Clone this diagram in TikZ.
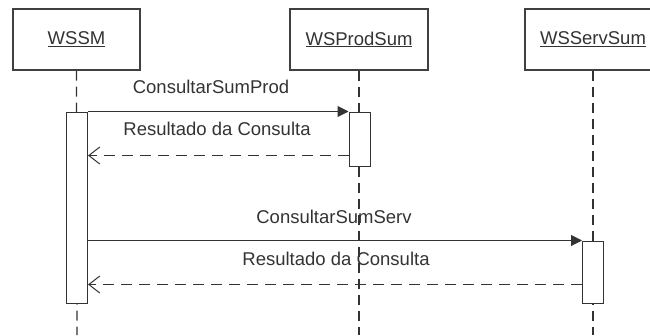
\documentclass[tikz,border=0pt]{standalone}
\usepackage{fontspec}
\setmainfont{Liberation Sans}
\usetikzlibrary{arrows.meta}
\begin{document}
\begin{tikzpicture}[x=1pt,y=-1pt,
  every node/.style={font=\fontsize{18.5}{22}\selectfont, text=black!80},
  actor/.style={draw=black!75, line width=1.3pt, minimum height=61pt, inner sep=0pt, fill=white},
  act/.style={draw=black!80, line width=1pt, minimum width=21pt, inner sep=0pt, fill=white},
  life/.style={draw=black!80, line width=1.3pt, dash pattern=on 10pt off 6pt},
  call/.style={draw=black!80, line width=1pt, -{Triangle[length=11pt,width=11pt]}},
  ret/.style={draw=black!80, line width=1pt, dash pattern=on 11pt off 7pt, -{Straight Barb[length=11pt,width=17pt]}},
  lbl/.style={inner sep=0pt, anchor=base}]
\useasboundingbox (0,0) rectangle (650,335);
% actors
\node[actor, minimum width=127pt] (wssm) at (76.5,39.5) {\underline{WSSM}};
\node[actor, minimum width=138pt] (wsp) at (359,39.5) {\underline{WSProdSum}};
\node[actor, minimum width=136pt] (wss) at (593,39.5) {\underline{WSServSum}};
% lifeline ends
\coordinate (e1) at (77,335);
\coordinate (e2) at (359,335);
\coordinate (e3) at (593,335);
\draw[life] (wssm.south) -- (e1);
\draw[life] (wsp.south) -- (e2);
\draw[life] (wss.south) -- (e3);
% activations
\node[act, minimum height=191pt] (actW) at (77,207.5) {};
\node[act, minimum height=54pt] (actP) at (359.5,139) {};
\node[act, minimum height=62pt] (actS) at (593,272) {};
% messages
\draw[call] (actW.north east) -- (actP.north west);
\draw[ret] ([yshift=11pt]actP.south west) -- ([yshift=11pt]actP.south west -| actW.east);
\draw[call] (actS.north west -| actW.east) -- (actS.north west);
\draw[ret] ([yshift=19pt]actS.south west) -- ([yshift=19pt]actS.south west -| actW.east);
% labels
\node[lbl] (l1) at (211,93) {ConsultarSumProd};
\node[lbl] (l2) at (217,135) {Resultado da Consulta};
\node[lbl] (l3) at (334,223) {ConsultarSumServ};
\node[lbl] (l4) at (336,265) {Resultado da Consulta};
\end{tikzpicture}
\end{document}
